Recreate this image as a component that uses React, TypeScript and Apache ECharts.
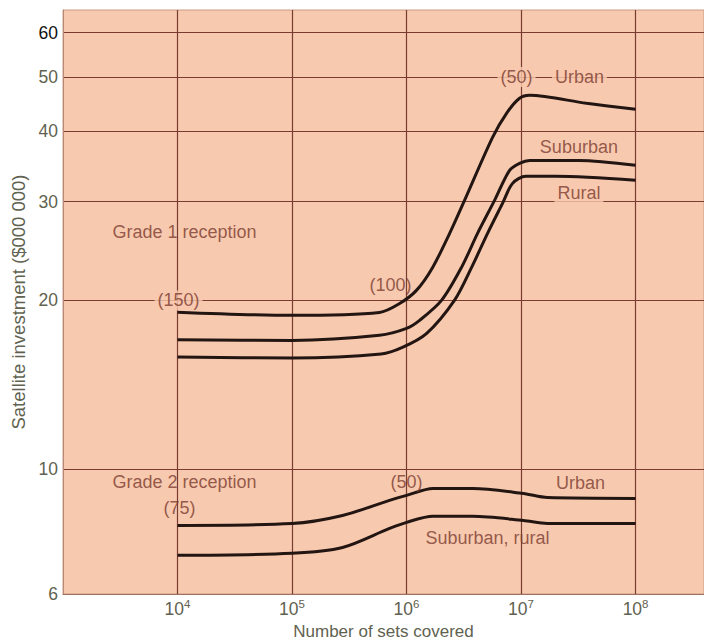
import React, { useEffect, useRef } from 'react';
import * as echarts from 'echarts';

// Tick values
const xTicks = [1e4, 1e5, 1e6, 1e7, 1e8];
const yTicks = [6, 10, 20, 30, 40, 50, 60];

// Series values: [number of sets covered, satellite investment ($000 000)]
const grade1Urban: [number, number][] = [
  [1e4, 19.06], [1e5, 18.81], [5.8e5, 19.04], [8.7e5, 19.75], [1.22e6, 20.84],
  [1.69e6, 22.9], [2.38e6, 26.33], [3.21e6, 30.14], [5.64e6, 39.03], [7.47e6, 43.07],
  [9.7e6, 45.81], [1.19e7, 46.38], [3.73e7, 44.87], [1e8, 43.78],
];
const grade1Suburban: [number, number][] = [
  [1e4, 17.02], [1e5, 16.97], [5.8e5, 17.33], [1e6, 17.83], [1.3e6, 18.43],
  [2.02e6, 20.0], [3.02e6, 22.9], [4.17e6, 26.33], [5.87e6, 30.14], [7.94e6, 34.09],
  [9.7e6, 35.09], [1.19e7, 35.5], [3.2e7, 35.5], [1e8, 34.8],
];
const grade1Rural: [number, number][] = [
  [1e4, 15.85], [1e5, 15.79], [6e5, 16.05], [9.2e5, 16.49], [1.5e6, 17.47],
  [2.62e6, 20.0], [3.7e6, 22.9], [5.1e6, 26.33], [6.89e6, 29.77], [8.43e6, 32.32],
  [1.1e7, 33.26], [2.0e7, 33.26], [1e8, 32.72],
];
const grade2Urban: [number, number][] = [
  [1e4, 7.95], [1e5, 8.01], [2.76e5, 8.28], [7.1e5, 8.81], [1e6, 8.99],
  [1.7e6, 9.25], [3.8e6, 9.25], [1.05e7, 9.06], [1.7e7, 8.91], [1e8, 8.88],
];
const grade2SuburbanRural: [number, number][] = [
  [1e4, 7.03], [1e5, 7.09], [2.76e5, 7.26], [7.1e5, 7.85], [1e6, 8.05],
  [1.7e6, 8.25], [3.8e6, 8.25], [1.05e7, 8.11], [1.7e7, 8.01], [1e8, 8.01],
];

// Annotation texts and their anchor values
const annotationTexts = [
  'Grade 1 reception', '(150)', '(100)', '(50)', 'Urban', 'Suburban', 'Rural',
  'Grade 2 reception', '(75)', '(50) ', 'Urban ', 'Suburban, rural',
];
const annotationX = [1.15e4, 1.02e4, 7.24e5, 9.14e6, 3.24e7, 3.2e7, 3.2e7, 1.15e4, 1.04e4, 1e6, 3.31e7, 5.09e6];
const annotationY = [26.5, 20, 21.3, 50, 50, 37.5, 31.1, 9.48, 8.52, 9.48, 9.44, 7.54];
const onGridline = ['(150)', '(50)', 'Urban', 'Rural'];

const FONT = '"Liberation Sans", Arial, sans-serif';
const PLOT_BG = '#f7c9ae';
const GRID_COLOR = '#7a3c30';
const CURVE_COLOR = '#231512';
const NOTE_COLOR = '#7b3a2e';
const AXIS_TEXT = '#5f6250';

export default function App() {
  const ref = useRef<HTMLDivElement>(null);
  useEffect(() => {
    if (!ref.current) return;
    const chart = echarts.init(ref.current, null, { renderer: 'svg' });
    const curves = [grade1Urban, grade1Suburban, grade1Rural, grade2Urban, grade2SuburbanRural];
    const curveNames = ['Grade 1 Urban', 'Grade 1 Suburban', 'Grade 1 Rural', 'Grade 2 Urban', 'Grade 2 Suburban, rural'];
    const option: any = {
      animation: false,
      backgroundColor: '#ffffff',
      grid: {
        left: 63, top: 10, right: 0, bottom: 46,
        containLabel: false,
        outerBoundsMode: 'none',
        show: true, backgroundColor: PLOT_BG, borderColor: '#c89c86', borderWidth: 1,
      },
      xAxis: {
        type: 'log', logBase: 10, min: 1000, max: 3.96e8,
        axisLine: { show: true, lineStyle: { color: '#a0705e', width: 1 } },
        axisTick: { show: false, customValues: xTicks },
        axisLabel: {
          customValues: xTicks,
          margin: 4,
          formatter: (v: number) => '{b|10}{s|' + Math.round(Math.log10(v)) + '}',
          rich: {
            b: { fontSize: 17.5, fontFamily: FONT, color: AXIS_TEXT, verticalAlign: 'bottom', lineHeight: 20 },
            s: { fontSize: 11.5, fontFamily: FONT, color: AXIS_TEXT, verticalAlign: 'top', lineHeight: 12 },
          },
        },
        splitLine: { show: true, lineStyle: { color: GRID_COLOR, width: 1.2 } },
        name: 'Number of sets covered',
        nameLocation: 'middle',
        nameGap: 17,
        nameTextStyle: { fontSize: 17, fontFamily: FONT, color: AXIS_TEXT, lineHeight: 18 },
      },
      yAxis: {
        type: 'log', logBase: 10, min: 6, max: 65.8,
        axisLine: { show: true, lineStyle: { color: '#b88a76', width: 1 } },
        axisTick: { show: false, customValues: yTicks },
        axisLabel: {
          customValues: yTicks,
          margin: 5,
          formatter: (v: number) => {
            const r = Math.round(v);
            return r === 60 ? '{k|' + r + '}' : '{n|' + r + '}';
          },
          rich: {
            k: { fontSize: 17.5, fontFamily: FONT, color: '#111111' },
            n: { fontSize: 17.5, fontFamily: FONT, color: AXIS_TEXT },
          },
        },
        splitLine: { show: true, lineStyle: { color: GRID_COLOR, width: 1.2 } },
        name: 'Satellite investment ($000 000)',
        nameLocation: 'middle',
        nameGap: 34,
        nameTextStyle: { fontSize: 18.5, fontFamily: FONT, color: AXIS_TEXT },
      },
      series: [
        ...curves.map((d, i) => ({
          name: curveNames[i],
          type: 'line',
          data: d,
          smooth: 0.3,
          symbol: 'none',
          silent: true,
          z: 3,
          lineStyle: { color: CURVE_COLOR, width: 3 },
        })),
        {
          name: 'notes',
          type: 'scatter',
          silent: true,
          symbolSize: 1,
          z: 5,
          itemStyle: { color: 'rgba(0,0,0,0)' },
          data: annotationTexts.map((t, i) => {
            const masked = onGridline.indexOf(t) >= 0;
            return {
              name: t.trim(),
              value: [annotationX[i], annotationY[i]],
              label: masked
                ? { backgroundColor: PLOT_BG, padding: [1, 3, 1, 3] }
                : {},
            };
          }),
          label: {
            show: true,
            position: 'inside',
            formatter: '{b}',
            fontSize: 18,
            fontFamily: FONT,
            color: NOTE_COLOR,
          },
        },
      ],
    };
    chart.setOption(option);
    return () => chart.dispose();
  }, []);
  return <div ref={ref} style={{ position: 'absolute', left: 0, top: 0, width: 704, height: 640 }} />;
}
